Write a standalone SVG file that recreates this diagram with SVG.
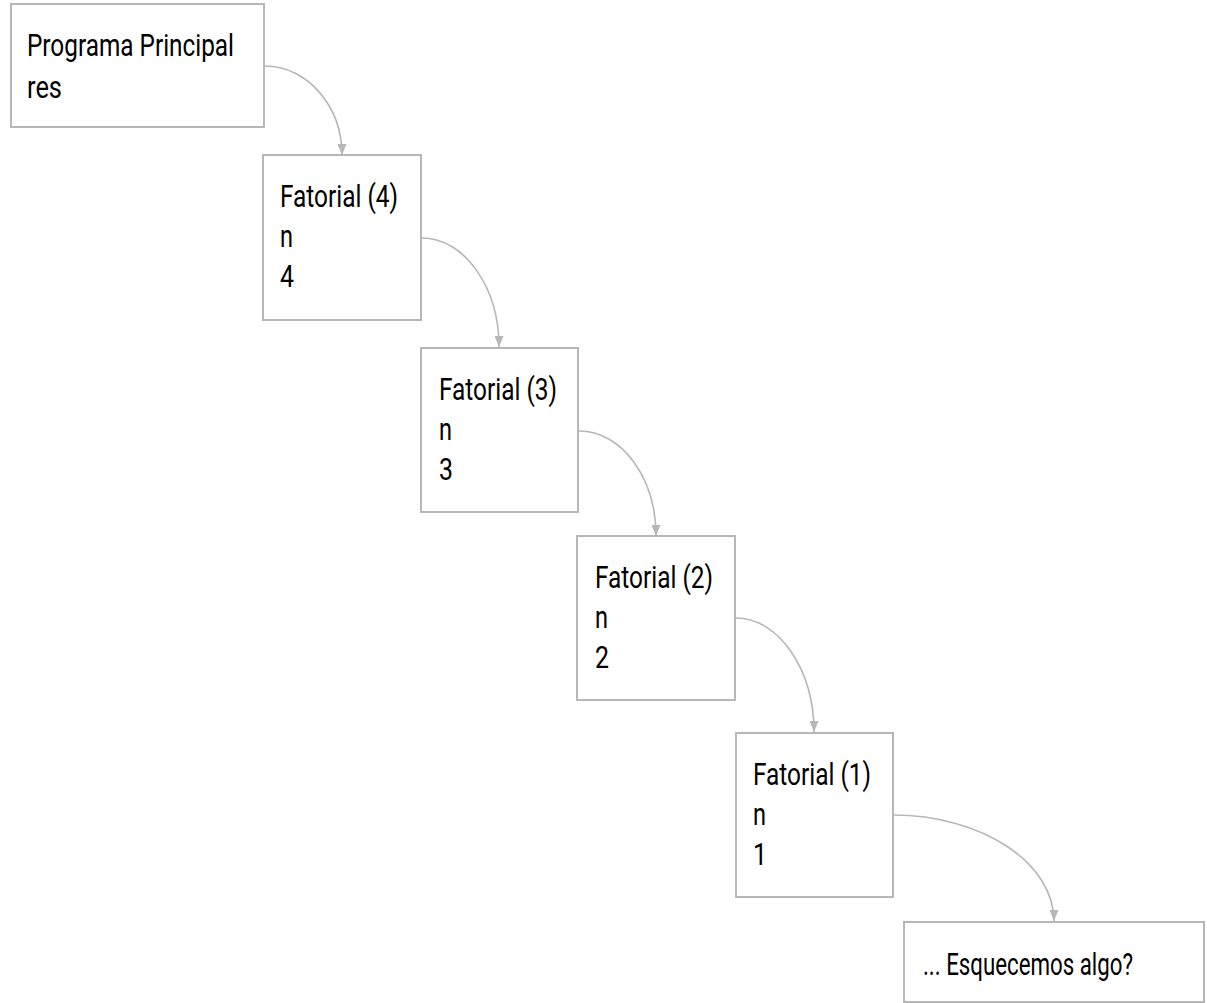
<svg xmlns="http://www.w3.org/2000/svg" width="1207" height="1003" viewBox="0 0 1207 1003">
  <style>
    .box { fill: #ffffff; stroke: #b7b7b7; stroke-width: 2; }
    .link { fill: none; stroke: #b7b7b7; stroke-width: 1.6; marker-end: url(#arrow); }
    .label { font-family: Roboto, "Liberation Sans", sans-serif; font-size: 32px; fill: #000000; }
  </style>
  <defs>
    <marker id="arrow" viewBox="0 0 11 9" refX="11" refY="4.5" markerWidth="11" markerHeight="9" orient="auto" markerUnits="userSpaceOnUse">
      <path d="M0,0 L11,4.5 L0,9 z" fill="#b7b7b7"/>
    </marker>
  </defs>

  <!-- call-chain connectors: right side of each frame to the top of the next -->
  <g id="connectors">
    <path class="link" d="M265,66 C307,66 342,106 342,155"/>
    <path class="link" d="M422,238 C465,238 499,288 499,347"/>
    <path class="link" d="M579,431 C622,431 656,478 656,536"/>
    <path class="link" d="M736,618 C779,618 814,670 814,732"/>
    <path class="link" d="M893,815 C982,815 1054,863 1054,921"/>
  </g>

  <g id="main">
    <rect class="box" x="11" y="4" width="253" height="123"/>
    <text class="label" x="27" y="56" textLength="207" lengthAdjust="spacingAndGlyphs">Programa Principal</text>
    <text class="label" x="27" y="98" textLength="35" lengthAdjust="spacingAndGlyphs">res</text>
  </g>

  <g id="fatorial4">
    <rect class="box" x="263" y="155" width="158" height="165"/>
    <text class="label" x="280" y="206.5" textLength="118" lengthAdjust="spacingAndGlyphs">Fatorial (4)</text>
    <text class="label" x="280" y="246.5" textLength="13" lengthAdjust="spacingAndGlyphs">n</text>
    <text class="label" x="280" y="286.5" textLength="14" lengthAdjust="spacingAndGlyphs">4</text>
  </g>

  <g id="fatorial3">
    <rect class="box" x="421" y="348" width="157" height="164"/>
    <text class="label" x="439" y="399.5" textLength="118" lengthAdjust="spacingAndGlyphs">Fatorial (3)</text>
    <text class="label" x="439" y="439.5" textLength="13" lengthAdjust="spacingAndGlyphs">n</text>
    <text class="label" x="439" y="479.5" textLength="14" lengthAdjust="spacingAndGlyphs">3</text>
  </g>

  <g id="fatorial2">
    <rect class="box" x="577" y="536" width="158" height="164"/>
    <text class="label" x="595" y="587.5" textLength="118" lengthAdjust="spacingAndGlyphs">Fatorial (2)</text>
    <text class="label" x="595" y="627.5" textLength="13" lengthAdjust="spacingAndGlyphs">n</text>
    <text class="label" x="595" y="667.5" textLength="14" lengthAdjust="spacingAndGlyphs">2</text>
  </g>

  <g id="fatorial1">
    <rect class="box" x="736" y="733" width="157" height="164"/>
    <text class="label" x="753" y="784.5" textLength="118" lengthAdjust="spacingAndGlyphs">Fatorial (1)</text>
    <text class="label" x="753" y="824.5" textLength="13" lengthAdjust="spacingAndGlyphs">n</text>
    <text class="label" x="753" y="864.5" textLength="14" lengthAdjust="spacingAndGlyphs">1</text>
  </g>

  <g id="question">
    <rect class="box" x="904" y="922" width="300" height="80"/>
    <text class="label" x="923" y="975" textLength="210" lengthAdjust="spacingAndGlyphs">... Esquecemos algo?</text>
  </g>
</svg>
